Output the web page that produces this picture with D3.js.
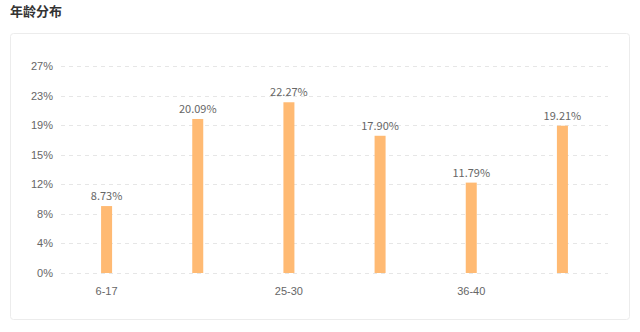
<!DOCTYPE html>
<html>
<head>
<meta charset="UTF-8">
<title>年龄分布</title>
<script src="https://d3js.org/d3.v7.min.js"></script>
<style>
    body { margin: 0; background: #fff; font-family: "Noto Sans CJK SC", "Noto Sans", sans-serif; }
    .grid line { stroke: #e6e6e6; stroke-dasharray: 4,4; }
    .axis text { fill: #666; font-size: 11px; }
</style>
</head>
<body>
<script>
    // data
    var categories = ["6-17", "18-24", "25-30", "31-35", "36-40", "40+"];
    var values = [8.73, 20.09, 22.27, 17.90, 11.79, 19.21];
    var yMax = 27;
    var tickCount = 7;

    var W = 640, H = 332;
    var margin = { top: 66, right: 32, bottom: 59, left: 61 };
    var width = W - margin.left - margin.right,
        height = H - margin.top - margin.bottom;

    var svg = d3.select("body").append("svg")
        .attr("width", W)
        .attr("height", H);

    svg.append("text")
        .attr("x", 10)
        .attr("y", 16)
        .attr("fill", "#333")
        .attr("font-size", "13px")
        .attr("font-weight", "bold")
        .text("年龄分布");

    svg.append("rect")
        .attr("x", 10.5).attr("y", 33.5)
        .attr("width", 619).attr("height", 286)
        .attr("rx", 3)
        .attr("fill", "#fff")
        .attr("stroke", "#ececec");

    var g = svg.append("g")
        .attr("transform", "translate(" + margin.left + "," + margin.top + ")");

    var x = d3.scaleBand().domain(categories).range([0, width]);
    var y = d3.scaleLinear().domain([0, yMax]).range([height, 0]);

    var ticks = d3.range(tickCount + 1).map(function (i) { return yMax * i / tickCount; });

    g.append("g").attr("class", "grid")
        .selectAll("line").data(ticks).enter().append("line")
        .attr("x1", 0).attr("x2", width)
        .attr("y1", function (d) { return Math.round(y(d)) + 0.5; })
        .attr("y2", function (d) { return Math.round(y(d)) + 0.5; });

    var yAxis = d3.axisLeft(y).tickValues(ticks).tickSize(0).tickPadding(8)
        .tickFormat(function (d) { return Math.round(d) + "%"; });
    g.append("g").attr("class", "axis").call(yAxis)
        .call(function (s) { s.select(".domain").remove(); });

    var xAxis = d3.axisBottom(x).tickSize(0).tickPadding(14)
        .tickFormat(function (d, i) { return i % 2 === 0 ? d : ""; });
    g.append("g").attr("class", "axis")
        .attr("transform", "translate(0," + height + ")")
        .call(xAxis)
        .call(function (s) { s.select(".domain").remove(); });

    var barW = 11;
    g.selectAll(".bar").data(values).enter().append("rect")
        .attr("class", "bar")
        .attr("x", function (d, i) { return x(categories[i]) + x.bandwidth() / 2 - barW / 2; })
        .attr("y", function (d) { return y(d); })
        .attr("width", barW)
        .attr("height", function (d) { return height - y(d); })
        .attr("fill", "#ffba73");

    g.selectAll(".val").data(values).enter().append("text")
        .attr("class", "val")
        .attr("x", function (d, i) { return x(categories[i]) + x.bandwidth() / 2; })
        .attr("y", function (d) { return y(d) - 6; })
        .attr("text-anchor", "middle")
        .attr("fill", "#666")
        .attr("font-size", "11px")
        .text(function (d) { return d.toFixed(2) + "%"; });
</script>
</body>
</html>
